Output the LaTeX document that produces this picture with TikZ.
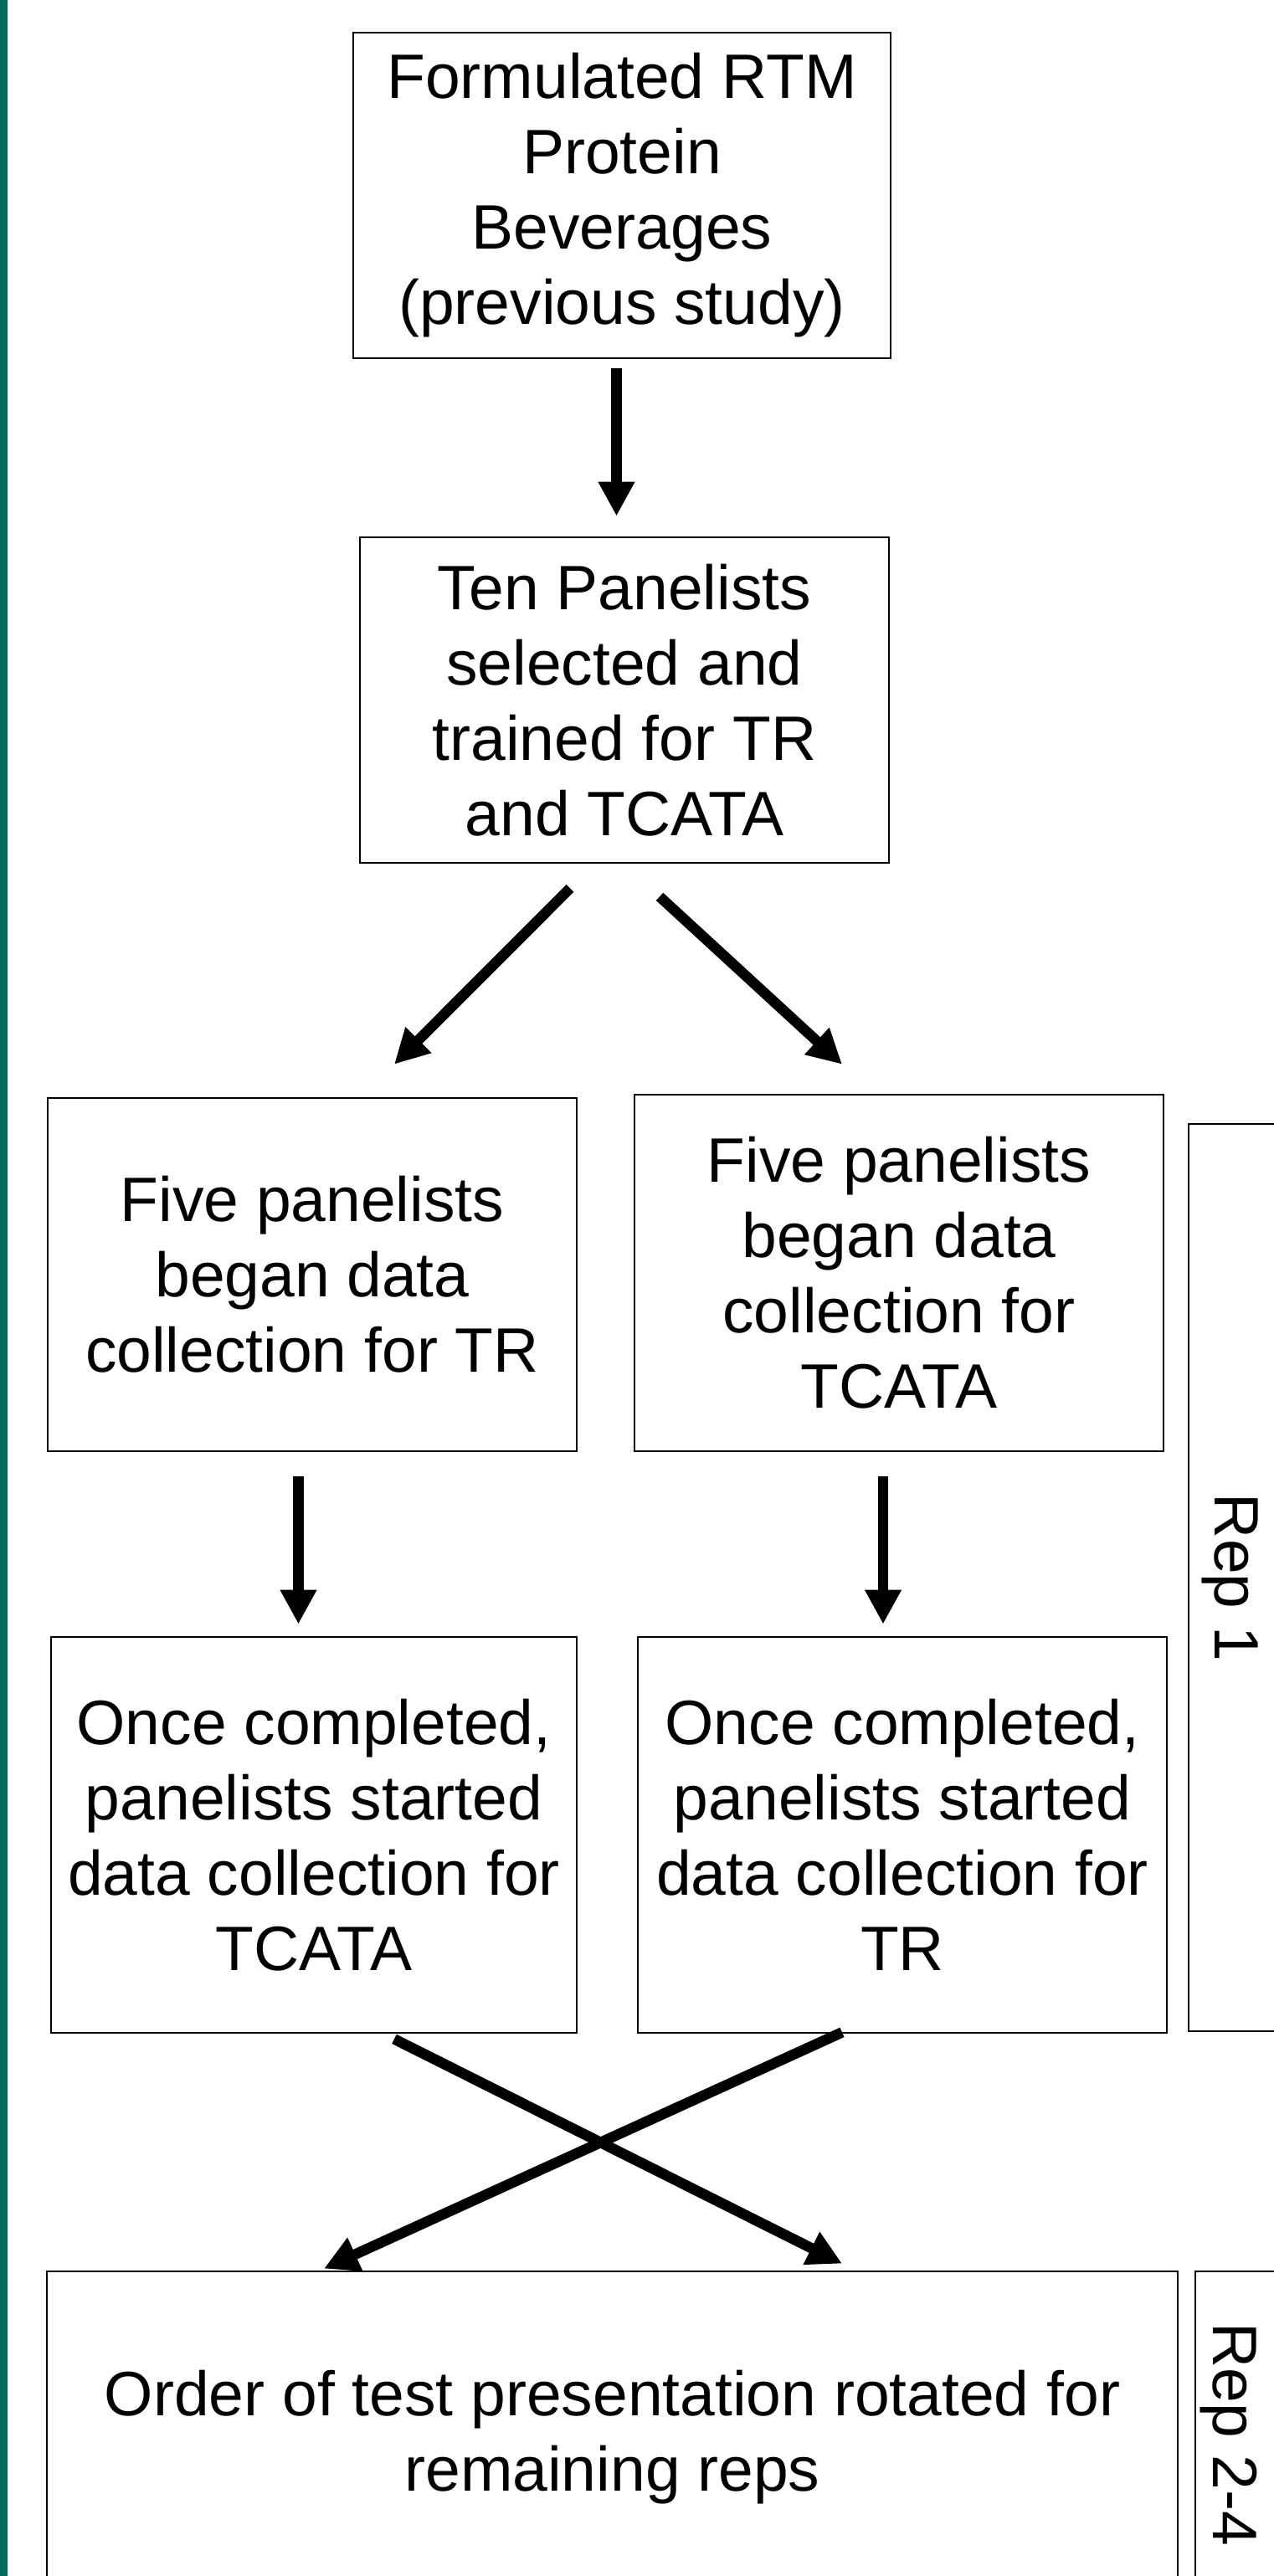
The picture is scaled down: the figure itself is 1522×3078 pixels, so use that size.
\documentclass[tikz,border=0pt]{standalone}
\usepackage{fontspec}
\setmainfont{Liberation Sans}
\usetikzlibrary{arrows.meta}
\definecolor{bargreen}{RGB}{0,107,91}
\begin{document}
\begin{tikzpicture}[x=1pt,y=1pt,
  box/.style={draw=black, line width=2.7pt, rectangle, inner sep=0pt, align=center, font=\fontsize{75}{90}\selectfont},
  frame/.style={draw=black, line width=2.7pt, rectangle, inner sep=0pt},
  arr/.style={line width=12.5pt, -{Triangle[length=41pt,width=41pt]}},
  lab/.style={font=\fontsize{75}{90}\selectfont, rotate=-90, inner sep=0pt}]
\useasboundingbox (0,-3078) rectangle (1522,0);
\clip (0,-3078) rectangle (1522,0);
\fill[bargreen] (0,-3078) rectangle (9,0);
\node[box, minimum width=642pt, minimum height=389pt] (b1) at (743,-233.5) {Formulated RTM\\Protein\\Beverages\\(previous study)};
\node[box, minimum width=632pt, minimum height=389pt] (b2) at (746,-836.5) {Ten Panelists\\selected and\\trained for TR\\and TCATA};
\node[box, minimum width=632pt, minimum height=422pt] (b3) at (373,-1523) {Five panelists\\began data\\collection for TR};
\node[box, minimum width=632pt, minimum height=426pt] (b4) at (1074,-1521) {Five panelists\\began data\\collection for\\TCATA};
\node[box, minimum width=628pt, minimum height=473pt] (b5) at (375,-2192.5) {Once completed,\\panelists started\\data collection for\\TCATA};
\node[box, minimum width=632pt, minimum height=473pt] (b6) at (1078,-2192.5) {Once completed,\\panelists started\\data collection for\\TR};
\node[box, minimum width=1351pt, minimum height=396pt] (b7) at (731.5,-2912) {Order of test presentation rotated for\\remaining reps};
\node[frame, minimum width=120pt, minimum height=1084pt] (r1) at (1480,-1885) {};
\node[lab] (r1t) at (1469,-1885) {Rep 1};
\node[frame, minimum width=112pt, minimum height=396pt] (r2) at (1484,-2912) {};
\node[lab] (r2t) at (1468,-2909) {Rep 2-4};
\draw[arr] ([xshift=-6.5pt,yshift=-11pt]b1.south) -- ([xshift=-9.5pt,yshift=24pt]b2.north);
\draw[arr] ([xshift=-65pt,yshift=-29pt]b2.south) -- ([xshift=98pt,yshift=39pt]b3.north);
\draw[arr] ([xshift=42pt,yshift=-39pt]b2.south) -- ([xshift=-68pt,yshift=35pt]b4.north);
\draw[arr] ([xshift=-16.5pt,yshift=-29pt]b3.south) -- ([xshift=-18.5pt,yshift=14pt]b5.north);
\draw[arr] ([xshift=-19pt,yshift=-29pt]b4.south) -- ([xshift=-23pt,yshift=14pt]b6.north);
\draw[arr] ([xshift=96pt,yshift=-6pt]b5.south) -- ([xshift=274.5pt,yshift=8pt]b7.north);
\draw[arr] ([xshift=-72pt,yshift=2pt]b6.south) -- ([xshift=-344.5pt,yshift=2pt]b7.north);
\end{tikzpicture}
\end{document}
